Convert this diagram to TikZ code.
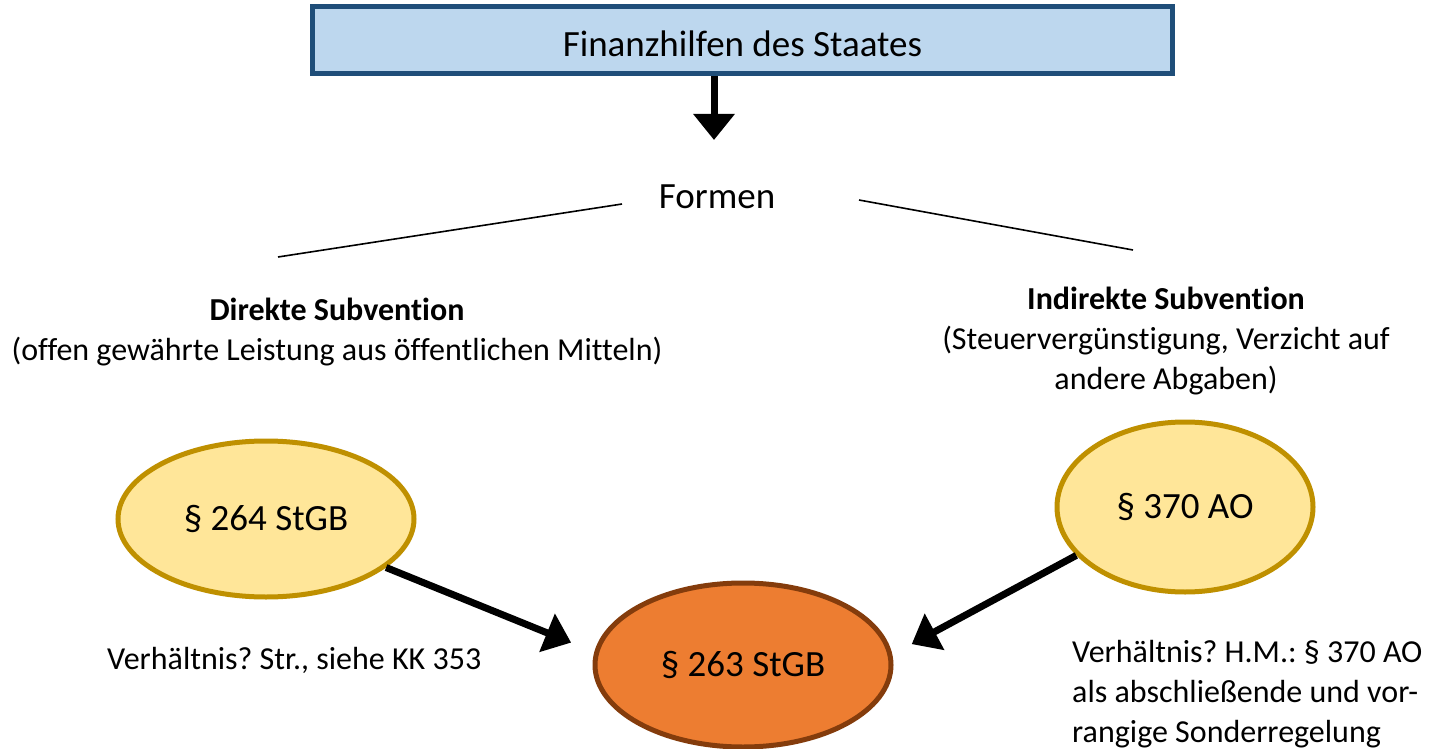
\documentclass[tikz,border=0pt]{standalone}
\usepackage{fontspec}
\setmainfont{Carlito}[Ligatures=CommonOff]
\usetikzlibrary{shapes.geometric,arrows.meta}
\definecolor{boxfill}{HTML}{BDD7EE}
\definecolor{boxdraw}{HTML}{1F4E79}
\definecolor{yelfill}{HTML}{FFE699}
\definecolor{yeldraw}{HTML}{BF9000}
\definecolor{orfill}{HTML}{ED7D31}
\definecolor{ordraw}{HTML}{843C0C}
\tikzset{
  bigtext/.style={font=\fontsize{37}{44}\selectfont\frenchspacing},
  bodytext/.style={font=\fontsize{32}{40}\selectfont\frenchspacing, inner sep=0pt},
  oval/.style={ellipse, line width=5pt, inner sep=0pt, font=\fontsize{37}{44}\selectfont},
  fatarrow/.style={line width=7pt, -{Triangle[width=40pt,length=26pt]}},
  thinline/.style={line width=1.6pt}
}
\begin{document}
\begin{tikzpicture}[x=1pt,y=-1pt]
\useasboundingbox (0,0) rectangle (1441,749);
\node[draw=boxdraw, fill=boxfill, line width=5.5pt, minimum width=860pt, minimum height=67pt, inner sep=0pt, text height=33pt, text depth=0pt, bigtext] (top) at (742.5,40) {Finanzhilfen des Staates};
\coordinate (downtip) at (714,140);
\draw[fatarrow] (top.south -| downtip) -- (downtip);
\node[bigtext, inner sep=0pt] (formen) at (717,197) {Formen};
\coordinate (la) at (278,257);
\coordinate (lb) at (622,204);
\coordinate (ra) at (859,200);
\coordinate (rb) at (1133,250);
\draw[thinline] (la) -- (lb);
\draw[thinline] (ra) -- (rb);
\node[bodytext, align=center] (direkt) at (337,332) {\textbf{Direkte Subvention}\\(offen gewährte Leistung aus öffentlichen Mitteln)};
\node[bodytext, align=center] (indirekt) at (1166,341) {\textbf{Indirekte Subvention}\\(Steuervergünstigung, Verzicht auf\\andere Abgaben)};
\node[oval, draw=yeldraw, fill=yelfill, minimum width=296pt, minimum height=156pt] (e264) at (266,519) {§ 264 StGB};
\node[oval, draw=yeldraw, fill=yelfill, minimum width=256pt, minimum height=170pt] (e370) at (1185,507) {§ 370 AO};
\node[oval, draw=ordraw, fill=orfill, minimum width=296pt, minimum height=164pt] (e263) at (743,665) {§ 263 StGB};
\draw[fatarrow, shorten >=25pt] (e264.-22) -- (e263.175.7);
\draw[fatarrow, shorten >=22pt] (e370.204) -- (e263.4.4);
\node[bodytext, anchor=west] (verh1) at (107,660) {Verhältnis? Str., siehe KK 353};
\node[bodytext, anchor=west, align=left] (verh2) at (1072,694) {Verhältnis? H.M.: § 370 AO\\als abschließende und vor-\\rangige Sonderregelung};
\end{tikzpicture}
\end{document}
